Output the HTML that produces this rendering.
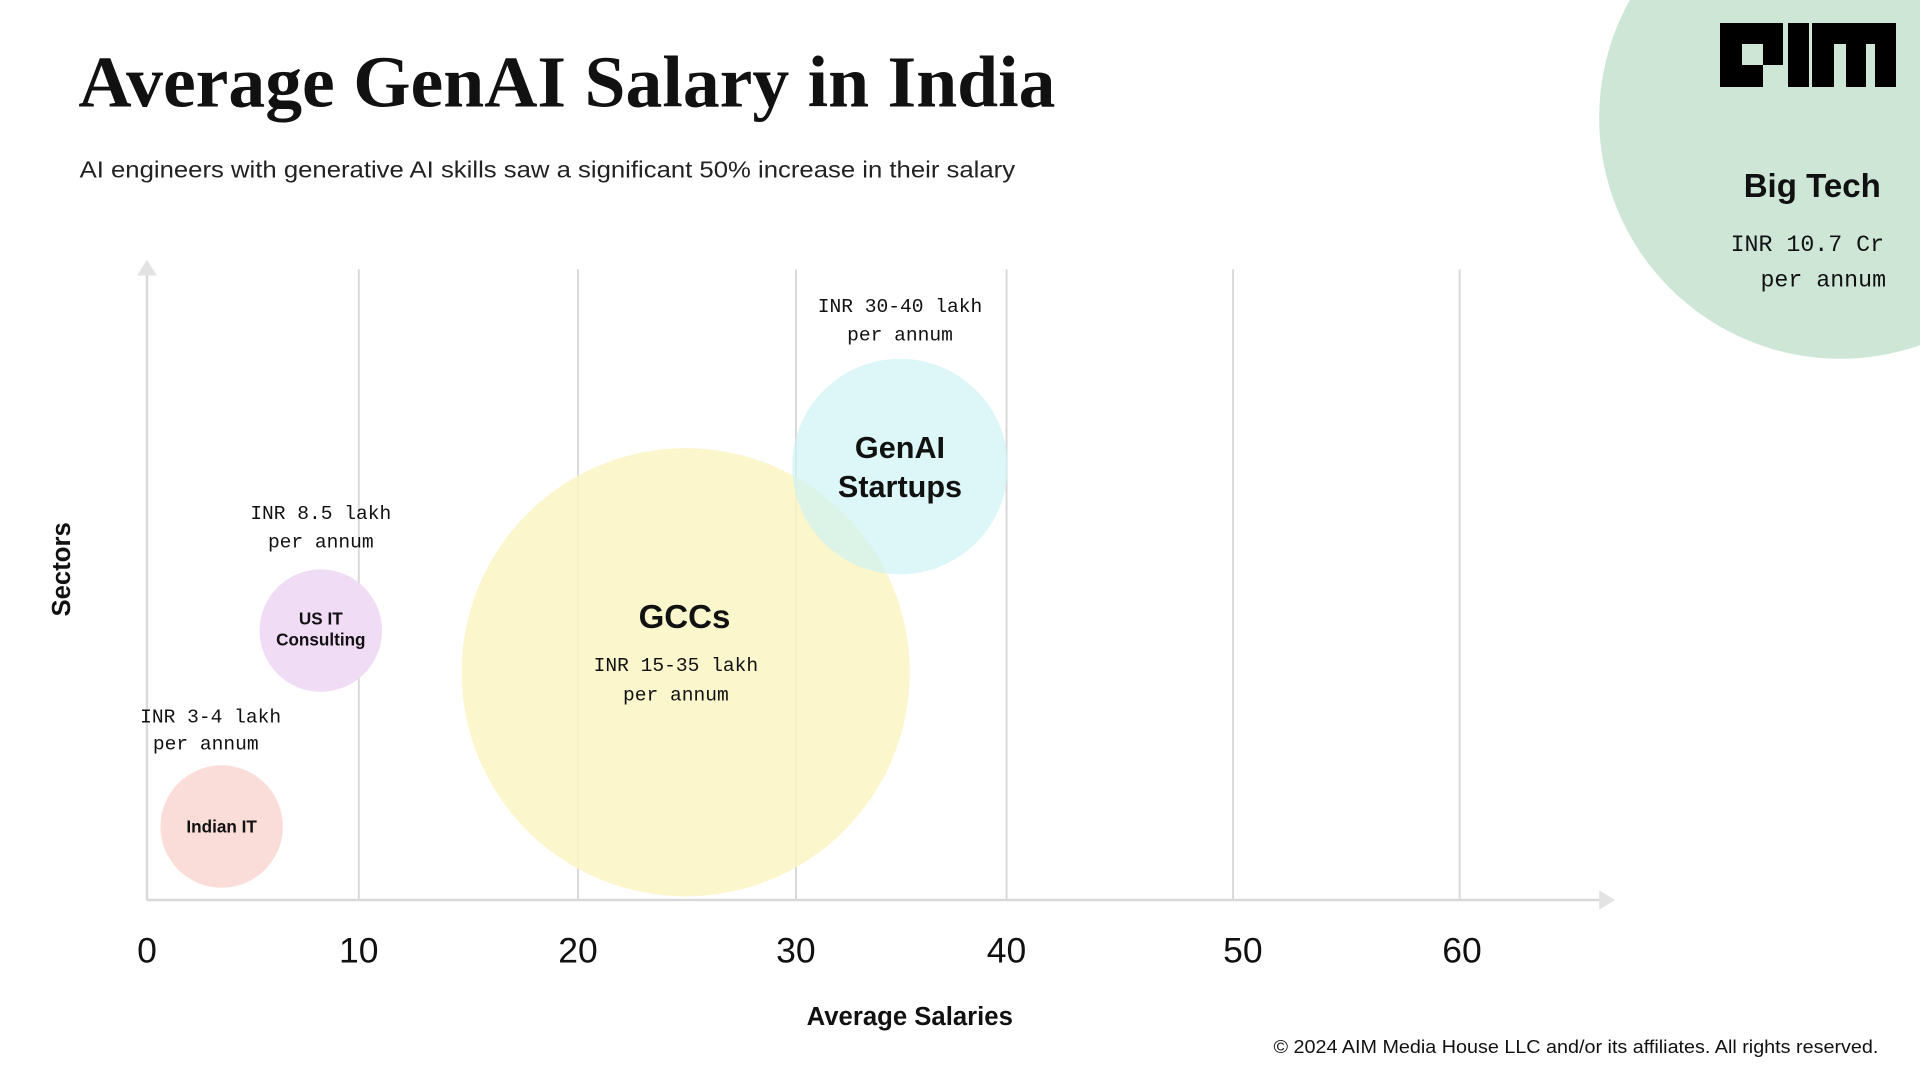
<!DOCTYPE html>
<html><head><meta charset="utf-8"><style>
html,body{margin:0;padding:0;background:#fff;}
#w{position:relative;width:1920px;height:1080px;overflow:hidden;}
svg{position:absolute;left:0;top:0;}
</style></head><body><div id="w">
<svg width="1920" height="1080" viewBox="0 0 1568 882">
<circle cx="1503" cy="96" r="197" fill="#cde6d6"/>
<g stroke="#d6d6d6" stroke-width="1.5">
<line x1="293" y1="220" x2="293" y2="735"/><line x1="472" y1="220" x2="472" y2="735"/>
<line x1="650" y1="220" x2="650" y2="735"/><line x1="822" y1="220" x2="822" y2="735"/>
<line x1="1007" y1="220" x2="1007" y2="735"/><line x1="1192" y1="220" x2="1192" y2="735"/>
</g>
<circle cx="181" cy="675" r="50" fill="#fadcd9"/>
<circle cx="262" cy="515" r="50" fill="#f0dcf5"/>
<circle cx="560" cy="549" r="183" fill="#fbf4c4" fill-opacity="0.85"/>
<circle cx="735" cy="381" r="88" fill="#cff2f3" fill-opacity="0.7"/>
<g stroke="#d9d9d9" stroke-width="2" fill="#e3e3e3">
<line x1="120" y1="735" x2="1308" y2="735"/><line x1="120" y1="735" x2="120" y2="222"/>
<polygon points="1306,727 1319,735 1306,743" stroke="none"/>
<polygon points="112,225 120,212 128,225" stroke="none"/>
</g>
<text x="64" y="87" font-family="Liberation Serif,serif" font-weight="bold" font-size="60" fill="#111" textLength="798" lengthAdjust="spacingAndGlyphs">Average GenAI Salary in India</text>
<text x="65" y="145" font-family="Liberation Sans,sans-serif" font-size="19" fill="#222" textLength="764" lengthAdjust="spacingAndGlyphs">AI engineers with generative AI skills saw a significant 50% increase in their salary</text>
<g font-family="Liberation Sans,sans-serif" font-size="29" fill="#111" text-anchor="middle">
<text x="120" y="786">0</text><text x="293" y="786">10</text><text x="472" y="786">20</text>
<text x="650" y="786">30</text><text x="822" y="786">40</text><text x="1015" y="786">50</text><text x="1194" y="786">60</text>
</g>
<text x="743" y="837" font-family="Liberation Sans,sans-serif" font-weight="bold" font-size="21" text-anchor="middle" fill="#111">Average Salaries</text>
<text transform="translate(57,465) rotate(-90)" font-family="Liberation Sans,sans-serif" font-weight="bold" font-size="21" text-anchor="middle" fill="#111">Sectors</text>
<g font-family="Liberation Sans,sans-serif" font-weight="bold" text-anchor="middle" fill="#111">
<text x="181" y="680" font-size="14">Indian IT</text>
<text x="262" y="510" font-size="14">US IT</text><text x="262" y="527" font-size="14">Consulting</text>
<text x="559" y="513" font-size="27">GCCs</text>
<text x="735" y="374" font-size="25">GenAI</text><text x="735" y="406" font-size="25">Startups</text>
<text x="1480" y="161" font-size="27">Big Tech</text>
</g>
<g font-family="Liberation Mono,monospace" font-size="16" text-anchor="middle" fill="#111">
<text x="172" y="590">INR 3-4 lakh</text><text x="168" y="612">per annum</text>
<text x="262" y="424">INR 8.5 lakh</text><text x="262" y="447">per annum</text>
<text x="552" y="548">INR 15-35 lakh</text><text x="552" y="572">per annum</text>
<text x="735" y="255">INR 30-40 lakh</text><text x="735" y="278">per annum</text>
<text x="1476" y="205" font-size="19">INR 10.7 Cr</text><text x="1489" y="234" font-size="19">per annum</text>
</g>
<text x="1534" y="860" font-family="Liberation Sans,sans-serif" font-size="15" text-anchor="end" fill="#111" textLength="494" lengthAdjust="spacingAndGlyphs">© 2024 AIM Media House LLC and/or its affiliates. All rights reserved.</text>
</svg>
<svg width="1920" height="1080" viewBox="0 0 1920 1080">
<path fill-rule="evenodd" d="M1720 23H1783V65H1763V87H1720Z M1742 44H1763V65H1742Z" fill="#000"/>
<rect x="1788" y="23" width="21" height="64" fill="#000"/>
<path d="M1812 23H1896V87H1875V44H1866V87H1846V44H1834V87H1812Z" fill="#000"/>
</svg>
</div></body></html>
